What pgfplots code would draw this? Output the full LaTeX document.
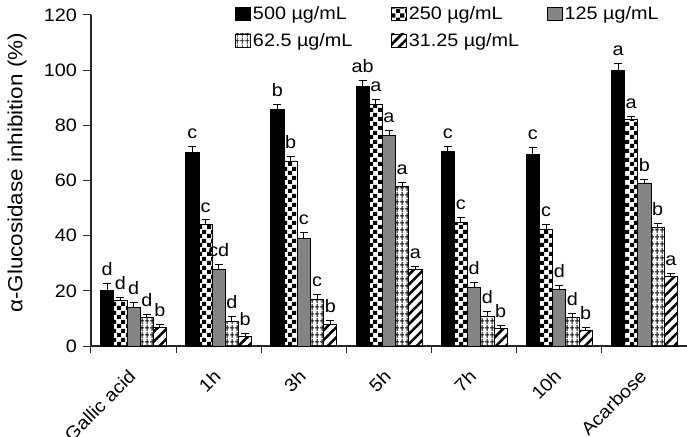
\documentclass[border=0pt]{standalone}
\usepackage{fontspec}
\setmainfont{Liberation Sans}[FakeStretch=1.1]
\usepackage{pgfplots}
\usepackage{pgfplotstable}
\pgfplotsset{compat=1.18}
\usetikzlibrary{patterns.meta}

% fill patterns for the concentration series
\tikzdeclarepattern{
  name=checks, type=uncolored,
  bounding box={(0pt,0pt) and (9pt,9pt)},
  tile size={(9pt,9pt)},
  code={
    \fill (0pt,0pt) rectangle (4.5pt,4.5pt);
    \fill (4.5pt,4.5pt) rectangle (9pt,9pt);
  }
}
\tikzdeclarepattern{
  name=gridlines, type=uncolored,
  bounding box={(0pt,0pt) and (5pt,7pt)},
  tile size={(5pt,7pt)},
  code={
    \draw[line width=1pt] (0pt,3.5pt) -- (5pt,3.5pt);
    \draw[line width=1pt] (2.5pt,0pt) -- (2.5pt,7pt);
  }
}
\definecolor{bargrey}{RGB}{132,132,132}

% inhibition (%), SD and letter group for each concentration
\pgfplotstableread{
x  v1   e1  l1  v2   e2  l2  v3   e3  l3  v4   e4  l4  v5   e5  l5
0  20.2 2.4 d   16.5 1.2 d   13.9 1.9 d   10.4 1.2 d   6.6  1.1 b
1  70.2 2.0 c   44.2 1.5 c   27.9 1.8 cd  9.0  1.6 d   3.4  1.2 b
2  85.6 2.1 b   67.1 1.5 b   39.0 2.2 c   17.0 1.7 c   7.7  1.4 b
3  94.0 2.4 ab  87.6 1.8 a   76.4 1.9 a   58.0 1.2 a   27.9 1.1 a
4  70.4 2.1 c   44.8 1.7 c   21.1 2.0 d   10.6 1.8 d   6.3  1.0 b
5  69.5 2.4 c   42.1 1.8 c   20.4 1.7 d   10.4 1.4 d   5.7  1.1 b
6  99.8 2.7 a   82.0 1.3 a   59.1 1.4 b   43.1 1.4 b   25.3 1.1 a
}\datatable

\newcommand{\lblfont}{\fontsize{18}{20}\selectfont}

\pgfplotsset{
  sdbar/.style={
    draw=black, line width=0.8pt,
    error bars/y dir=plus, error bars/y explicit,
    error bars/error bar style={line width=1pt, black},
    error bars/error mark options={rotate=90, mark size=4pt, line width=1pt, black},
    point meta=explicit symbolic,
    nodes near coords,
    visualization depends on={\thisrow{#1} \as \myerr},
    every node near coord/.append style={font=\lblfont, black, anchor=south,
      yshift={\myerr*2.7583pt+4pt}},
  },
}

\begin{document}
\begin{tikzpicture}
\begin{axis}[
  name=ax,
  scale only axis, width=596pt, height=331pt,
  ybar=0pt, bar width=13.2pt,
  xmin=-0.5, xmax=6.5, ymin=0, ymax=120,
  clip=false,
  axis lines*=left,
  axis line style={line width=1.2pt, black!85},
  tick align=outside,
  major tick length=8pt, minor tick length=7pt,
  every tick/.style={line width=1pt, black!85},
  xtick={0,...,6},
  xticklabels={Gallic acid,1h,3h,5h,7h,10h,Acarbose},
  every major x tick/.append style={draw=none},
  minor xtick={-0.5,0.5,...,6.5},
  ytick={0,20,...,120},
  /pgf/number format/assume math mode=true,
  tick label style={font=\lblfont},
  xticklabel style={inner sep=0pt, xshift=-6pt, yshift=-14pt, rotate=45, anchor=north east},
  yticklabel style={inner sep=0pt, anchor=east, xshift=-6pt},
  ylabel={α-Glucosidase inhibition (\%)},
  every axis y label/.style={at={(axis description cs:-0.124,0.523)}, rotate=90, anchor=center,
    font=\fontsize{20.4}{24}\selectfont},
  legend columns=3,
  legend cell align=left,
  legend style={at={(0.2416,1.032)}, anchor=north west, draw=none, fill=none,
    inner sep=0pt, font=\lblfont, column sep=0pt, row sep=8pt,
    nodes={inner sep=2pt}},
  legend image code/.code={\draw[#1] (0pt,-6.5pt) rectangle (15pt,6.5pt);},
]
\addplot[sdbar=e1, fill=black]
  table[x=x, y=v1, y error=e1, meta=l1]{\datatable};
\addplot[sdbar=e2, fill=white, pattern=checks, pattern color=black]
  table[x=x, y=v2, y error=e2, meta=l2]{\datatable};
\addplot[sdbar=e3, fill=bargrey]
  table[x=x, y=v3, y error=e3, meta=l3]{\datatable};
\addplot[sdbar=e4, pattern=gridlines, pattern color=black]
  table[x=x, y=v4, y error=e4, meta=l4]{\datatable};
\addplot[sdbar=e5, pattern={Lines[angle=45, distance=7pt, line width=2.5pt]}, pattern color=black]
  table[x=x, y=v5, y error=e5, meta=l5]{\datatable};
\legend{\makebox[136pt][l]{500 µg/mL},\makebox[136pt][l]{250 µg/mL},\makebox[136pt][l]{125 µg/mL},
        \makebox[136pt][l]{62.5 µg/mL},\makebox[136pt][l]{31.25 µg/mL}}
\end{axis}
\pgfresetboundingbox
\path ([shift={(-91pt,-90pt)}]ax.south west) rectangle ([shift={(0pt,15pt)}]ax.north east);
\end{tikzpicture}
\end{document}
